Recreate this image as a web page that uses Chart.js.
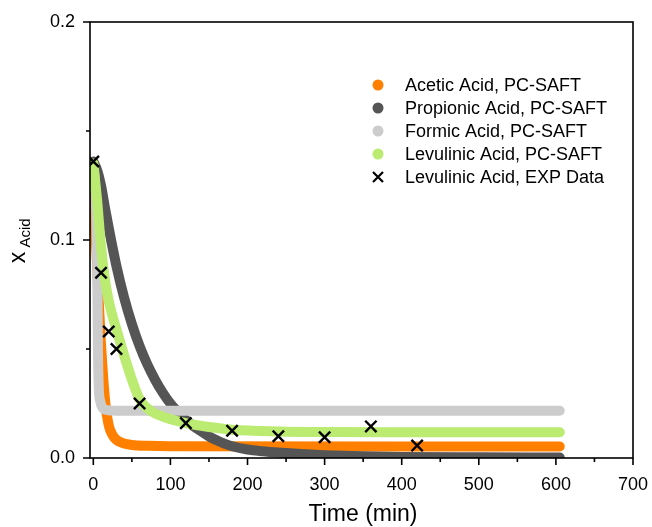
<!DOCTYPE html>
<html>
<head>
<meta charset="utf-8">
<script src="https://cdn.jsdelivr.net/npm/chart.js@4"></script>
<style>
  body { margin: 0; background: #fff; }
  canvas { display: block; }
</style>
</head>
<body>
<canvas id="chart" width="652" height="527"></canvas>
<script>
// values
var seriesNames = ["Acetic Acid, PC-SAFT", "Propionic Acid, PC-SAFT", "Formic Acid, PC-SAFT",
                   "Levulinic Acid, PC-SAFT", "Levulinic Acid, EXP Data"];

var aceticT = [0, 4, 7, 10, 13, 16, 20, 25, 30, 40, 50, 70, 100, 605];
var aceticX = [0.12, 0.095, 0.072, 0.052, 0.036, 0.024, 0.015, 0.0105, 0.0083, 0.0066, 0.006, 0.0056, 0.0054, 0.0053];

var propT = [0, 5, 10, 15, 20, 30, 40, 50, 60, 70, 80, 90, 100, 110, 120, 130, 140, 150, 160, 170, 180,
             200, 220, 240, 270, 300, 350, 400, 500, 605];
var propX = [0.136, 0.132, 0.125, 0.115, 0.1055, 0.088, 0.0735, 0.0615, 0.0514, 0.043, 0.036, 0.030, 0.025,
             0.021, 0.0175, 0.0146, 0.0122, 0.0099, 0.0081, 0.0066, 0.0054, 0.0039, 0.0031, 0.0025,
             0.0018, 0.0013, 0.0008, 0.0005, 0.0003, 0.0002];

var formicT = [0, 3, 5, 6, 7, 9, 12, 18, 30, 605];
var formicX = [0.135, 0.12, 0.09, 0.05, 0.033, 0.026, 0.023, 0.022, 0.0217, 0.0217];

var levT = [0, 5, 10, 15, 20, 25, 30, 40, 50, 60, 75, 90, 105, 120, 150, 180, 240, 300, 400, 605];
var levX = [0.135, 0.118, 0.097, 0.082, 0.072, 0.065, 0.059, 0.047, 0.036, 0.027, 0.0215, 0.019, 0.0173,
            0.016, 0.0142, 0.013, 0.0122, 0.0119, 0.0118, 0.0118];

var expT = [0, 10, 20, 30, 60, 120, 180, 240, 300, 360, 420];
var expX = [0.136, 0.085, 0.058, 0.050, 0.025, 0.016, 0.0125, 0.010, 0.0095, 0.0145, 0.0057];

var xMajor = [0, 100, 200, 300, 400, 500, 600, 700];
var xMinor = [50, 150, 250, 350, 450, 550, 650];
var yMajor = [0, 0.1, 0.2];
var yMinor = [0.05, 0.15];
var yTickLabels = ["0.0", "0.1", "0.2"];

var colors = ["#ff8000", "#555555", "#cccccc", "#bbeb70", "#000000"];

var FONT = "'Liberation Sans', Arial, sans-serif";

function pts(t, v) {
  return t.map(function (x, i) { return { x: x, y: v[i] }; });
}

function curve(i, t, v, order) {
  return {
    label: seriesNames[i],
    data: pts(t, v),
    borderColor: colors[i],
    backgroundColor: colors[i],
    borderWidth: 10,
    borderCapStyle: 'round',
    borderJoinStyle: 'round',
    pointRadius: 0,
    cubicInterpolationMode: 'monotone',
    fill: false,
    clip: 0,
    order: order
  };
}

// axes box, ticks, titles and legend
var decor = {
  id: 'decor',
  afterDraw: function (c) {
    var ctx = c.ctx, a = c.chartArea, xs = c.scales.x, ys = c.scales.y;
    ctx.save();
    ctx.strokeStyle = '#000';
    ctx.lineWidth = 1.6;
    ctx.strokeRect(a.left, a.top, a.right - a.left, a.bottom - a.top);
    ctx.beginPath();
    xMajor.forEach(function (v) { var p = xs.getPixelForValue(v); ctx.moveTo(p, a.bottom); ctx.lineTo(p, a.bottom + 7); });
    xMinor.forEach(function (v) { var p = xs.getPixelForValue(v); ctx.moveTo(p, a.bottom); ctx.lineTo(p, a.bottom + 4); });
    yMajor.forEach(function (v) { var p = ys.getPixelForValue(v); ctx.moveTo(a.left, p); ctx.lineTo(a.left - 7, p); });
    yMinor.forEach(function (v) { var p = ys.getPixelForValue(v); ctx.moveTo(a.left, p); ctx.lineTo(a.left - 4, p); });
    ctx.stroke();

    ctx.fillStyle = '#000';
    ctx.font = '23px ' + FONT;
    ctx.textAlign = 'center';
    ctx.textBaseline = 'alphabetic';
    ctx.fillText('Time (min)', 363, 521);

    ctx.save();
    ctx.translate(25, 257.5);
    ctx.rotate(-Math.PI / 2);
    ctx.font = '23px ' + FONT;
    ctx.fillText('x', 0, 0);
    ctx.restore();
    ctx.save();
    ctx.translate(30, 233);
    ctx.rotate(-Math.PI / 2);
    ctx.font = '15px ' + FONT;
    ctx.fillText('Acid', 0, 0);
    ctx.restore();

    ctx.font = '18px ' + FONT;
    ctx.textAlign = 'left';
    ctx.textBaseline = 'middle';
    seriesNames.forEach(function (name, i) {
      var y = 85 + i * 23, x = 378;
      if (i < 4) {
        ctx.fillStyle = colors[i];
        ctx.beginPath();
        ctx.arc(x, y, 5.5, 0, Math.PI * 2);
        ctx.fill();
      } else {
        ctx.strokeStyle = '#000';
        ctx.lineWidth = 2.2;
        ctx.beginPath();
        ctx.moveTo(x - 5, y - 5); ctx.lineTo(x + 5, y + 5);
        ctx.moveTo(x - 5, y + 5); ctx.lineTo(x + 5, y - 5);
        ctx.stroke();
      }
      ctx.fillStyle = '#000';
      ctx.fillText(name, 405, y + 1);
    });
    ctx.restore();
  }
};

Chart.defaults.font.family = FONT;
Chart.defaults.color = '#000';

var chart = new Chart(document.getElementById('chart'), {
  type: 'line',
  data: {
    datasets: [
      {
        label: seriesNames[4],
        data: pts(expT, expX),
        showLine: false,
        pointStyle: 'crossRot',
        pointRadius: 8,
        pointBorderWidth: 2.4,
        borderColor: '#000',
        backgroundColor: '#000',
        clip: 0,
        order: 0
      },
      curve(3, levT, levX, 1),
      curve(2, formicT, formicX, 2),
      curve(1, propT, propX, 3),
      curve(0, aceticT, aceticX, 4)
    ]
  },
  options: {
    responsive: false,
    animation: false,
    layout: { padding: { top: 22, right: 19, left: 0, bottom: 0 } },
    plugins: { legend: { display: false }, tooltip: { enabled: false } },
    scales: {
      x: {
        type: 'linear',
        min: -4.3,
        max: 700,
        grid: { display: false, drawTicks: false },
        border: { display: false },
        afterBuildTicks: function (s) { s.ticks = xMajor.map(function (v) { return { value: v }; }); },
        afterFit: function (s) { s.height = 69; s.paddingLeft = 0; s.paddingRight = 0; },
        ticks: { font: { size: 18 }, padding: 16, maxRotation: 0, autoSkip: false,
                 callback: function (v) { return String(v); } }
      },
      y: {
        type: 'linear',
        min: 0,
        max: 0.2,
        grid: { display: false, drawTicks: false },
        border: { display: false },
        afterBuildTicks: function (s) { s.ticks = yMajor.map(function (v) { return { value: v }; }); },
        afterFit: function (s) { s.width = 90; s.paddingTop = 0; s.paddingBottom = 0; },
        ticks: { font: { size: 18 }, padding: 15, autoSkip: false,
                 callback: function (v, i) { return yTickLabels[i]; } }
      }
    }
  },
  plugins: [decor]
});
</script>
</body>
</html>
